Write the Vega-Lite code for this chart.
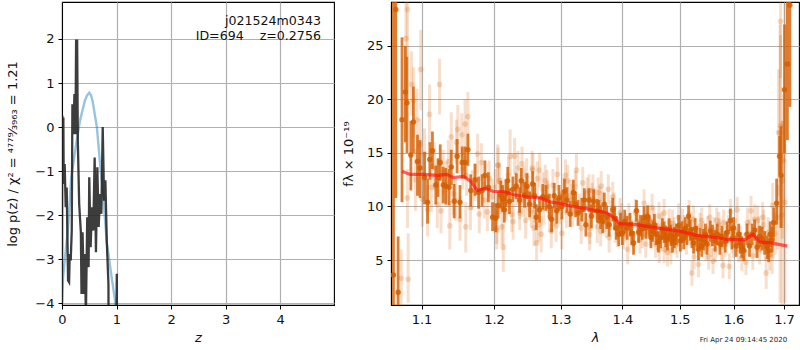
{
"$schema":"https://vega.github.io/schema/vega-lite/v6.json",
"padding":{"left":6,"top":1,"right":0,"bottom":0},
"background":"white",
"bounds":"flush",
"spacing":57,
"config":{"view":{"stroke":"black","strokeWidth":1.1},"font":"DejaVu Sans",
"axis":{"grid":true,"gridColor":"#b0b0b0","gridWidth":1.2,"domainColor":"black","tickColor":"black","tickSize":4,"tickWidth":1,"labelFontSize":13,"labelColor":"#111","titleFontSize":13,"titleFontWeight":"normal","titleColor":"#111","labelFont":"DejaVu Sans","titleFont":"DejaVu Sans","labelPadding":4,"labelFlush":false}},
"hconcat":[
{"width":272,"height":303,"layer":[
{"data":{"values":[{"z":0,"p":-4},{"z":0.02,"p":-3.4},{"z":0.06,"p":-2.9},{"z":0.11,"p":-2.3},{"z":0.17,"p":-1.15},{"z":0.25,"p":-0.46},{"z":0.33,"p":0.15},{"z":0.42,"p":0.6},{"z":0.46,"p":0.72},{"z":0.5,"p":0.78},{"z":0.53,"p":0.73},{"z":0.56,"p":0.6},{"z":0.64,"p":0},{"z":0.7,"p":-0.85},{"z":0.76,"p":-1.6},{"z":0.82,"p":-2.6},{"z":0.91,"p":-3.4},{"z":0.975,"p":-3.95},{"z":1,"p":-4.4}]},
"mark":{"type":"line","color":"#0072B2","opacity":0.42,"strokeWidth":2.4,"clip":true},
"encoding":{"x":{"field":"z","type":"quantitative","scale":{"domain":[0,4.99],"nice":false},"axis":{"values":[0,1,2,3,4],"format":"d","title":"z","titleFontStyle":"italic","titlePadding":5}},"y":{"field":"p","type":"quantitative","scale":{"domain":[-4.04,2.84],"nice":false,"zero":false},"axis":{"values":[-4,-3,-2,-1,0,1,2],"title":"log p(z) / χ² = ⁴⁷⁷⁹⁄₃₉₆₃ = 1.21","titlePadding":15}}}},
{"data":{"values":[{"z":0,"p":-4.01},{"z":0.006,"p":0.26},{"z":0.019,"p":-0.76},{"z":0.025,"p":0.22},{"z":0.031,"p":-1.29},{"z":0.049,"p":-0.84},{"z":0.068,"p":-1.82},{"z":0.086,"p":-1.37},{"z":0.111,"p":-3.48},{"z":0.13,"p":-3.52},{"z":0.142,"p":-2.88},{"z":0.16,"p":-3.03},{"z":0.179,"p":-2.35},{"z":0.191,"p":0.52},{"z":0.21,"p":-0.16},{"z":0.228,"p":0.75},{"z":0.247,"p":-0.16},{"z":0.259,"p":1.96},{"z":0.278,"p":1.96},{"z":0.29,"p":-0.31},{"z":0.315,"p":-1.74},{"z":0.346,"p":-2.39},{"z":0.358,"p":-3.79},{"z":0.377,"p":-2.39},{"z":0.401,"p":-3.79},{"z":0.42,"p":-2.88},{"z":0.438,"p":-4.3},{"z":0.463,"p":-2.05},{"z":0.488,"p":-3.18},{"z":0.5,"p":-1.14},{"z":0.525,"p":-2.73},{"z":0.549,"p":-1.82},{"z":0.574,"p":-2.35},{"z":0.599,"p":-0.69},{"z":0.623,"p":-2.84},{"z":0.648,"p":-0.91},{"z":0.673,"p":-2.27},{"z":0.698,"p":-1.52},{"z":0.722,"p":-1.97},{"z":0.747,"p":0},{"z":0.772,"p":-1.67},{"z":0.796,"p":-1.21},{"z":0.821,"p":-2.58},{"z":0.852,"p":-3.56},{"z":0.858,"p":-6},{"z":0.99,"p":-6},{"z":1.005,"p":-3.33},{"z":1.01,"p":-6}]},
"mark":{"type":"line","color":"#222222","opacity":0.88,"strokeWidth":2.3,"clip":true},
"encoding":{"x":{"field":"z","type":"quantitative"},"y":{"field":"p","type":"quantitative"}}},
{"data":{"values":[{"z":4.75,"p":2.415,"t":"j021524m0343"},{"z":4.75,"p":2.075,"t":"ID=694\u00a0\u00a0\u00a0\u00a0z=0.2756"}]},
"mark":{"type":"text","align":"right","baseline":"middle","fontSize":12.6,"color":"#111"},
"encoding":{"x":{"field":"z","type":"quantitative"},"y":{"field":"p","type":"quantitative"},"text":{"field":"t"}}}
]},
{"width":408,"height":303,"layer":[
{"data":{"name":"faint","values":[
{"l":1.0735,"f":3.3,"lo":-1,"hi":6},{"l":1.0825,"f":3.2,"lo":1,"hi":7.5},{"l":1.0815,"f":28.4,"lo":24,"hi":33},{"l":1.0796,"f":25.7,"lo":21,"hi":30},{"l":1.099,"f":22.8,"lo":19,"hi":26.5},{"l":1.124,"f":21.4,"lo":18.6,"hi":23.8},{"l":1.0868,"f":21.4,"lo":18.5,"hi":24.5},{"l":1.0895,"f":19.9,"lo":16.5,"hi":23},{"l":1.1106,"f":18.6,"lo":15.8,"hi":21.4},{"l":1.094,"f":18.1,"lo":15,"hi":21},{"l":1.163,"f":18.4,"lo":15.6,"hi":20.7},{"l":1.159,"f":17.7,"lo":15.2,"hi":20},{"l":1.149,"f":17.2,"lo":14.5,"hi":19.5},{"l":1.14,"f":16.5,"lo":14.3,"hi":18.8},{"l":1.1545,"f":16.7,"lo":14.7,"hi":18.7},{"l":1.147,"f":16,"lo":14,"hi":18.1},{"l":1.098,"f":15.8,"lo":13.2,"hi":18.2},{"l":1.0815,"f":10.8,"lo":8,"hi":13.5},{"l":1.138,"f":8.2,"lo":6,"hi":10.5},{"l":1.16,"f":8.1,"lo":5.7,"hi":10.4},{"l":1.126,"f":9.6,"lo":7.5,"hi":11.7},{"l":1.108,"f":9.7,"lo":7.2,"hi":12},{"l":1.152,"f":8.8,"lo":6.8,"hi":11},{"l":1.1665,"f":9.9,"lo":7.8,"hi":12},{"l":1.1905,"f":9.5,"lo":7.7,"hi":11.3},{"l":1.179,"f":9.3,"lo":7.5,"hi":11},{"l":1.2054,"f":13.9,"lo":12,"hi":15.8},{"l":1.1766,"f":14.9,"lo":13,"hi":16.8},{"l":1.204,"f":8,"lo":6.5,"hi":9.8},
{"l":1.092,"f":12.5,"lo":9.6,"hi":15.4},{"l":1.101,"f":10.7,"lo":8.1,"hi":13.2},{"l":1.104,"f":14.9,"lo":12.4,"hi":17.3},{"l":1.113,"f":11.8,"lo":9.5,"hi":14},{"l":1.117,"f":13.7,"lo":11.5,"hi":16},{"l":1.121,"f":10.2,"lo":8,"hi":12.3},{"l":1.129,"f":13.2,"lo":11.1,"hi":15.3},{"l":1.133,"f":12.1,"lo":10,"hi":14.2},{"l":1.136,"f":14.2,"lo":12.2,"hi":16.2},{"l":1.143,"f":11.2,"lo":9.2,"hi":13.1},{"l":1.146,"f":10.6,"lo":8.7,"hi":12.6},{"l":1.156,"f":13.5,"lo":11.6,"hi":15.4},{"l":1.161,"f":12.9,"lo":11,"hi":14.8},{"l":1.169,"f":11.5,"lo":9.7,"hi":13.4},{"l":1.173,"f":12.3,"lo":10.5,"hi":14},{"l":1.182,"f":14.1,"lo":12.4,"hi":15.9},{"l":1.186,"f":10.6,"lo":8.9,"hi":12.3},{"l":1.193,"f":12.6,"lo":10.9,"hi":14.3},{"l":1.197,"f":10.9,"lo":9.2,"hi":12.6},
{"l":1.206,"f":13.8,"lo":12.1,"hi":15.5},{"l":1.2235,"f":14.7,"lo":12.9,"hi":17.2},{"l":1.23,"f":14.7,"lo":13,"hi":16.4},{"l":1.235,"f":13.6,"lo":12,"hi":15.2},{"l":1.241,"f":14,"lo":12.4,"hi":15.6},{"l":1.256,"f":13.6,"lo":12,"hi":15.2},{"l":1.2575,"f":13.4,"lo":11.8,"hi":15},{"l":1.2675,"f":13.4,"lo":11.8,"hi":15},{"l":1.248,"f":12.9,"lo":11.3,"hi":14.5},{"l":1.295,"f":13,"lo":11.5,"hi":14.6},{"l":1.3075,"f":12.9,"lo":11.4,"hi":14.4},{"l":1.325,"f":13.4,"lo":11.9,"hi":14.9},{"l":1.335,"f":12.2,"lo":10.7,"hi":13.7},{"l":1.276,"f":12.4,"lo":10.9,"hi":13.9},{"l":1.311,"f":12.4,"lo":10.9,"hi":13.9},{"l":1.345,"f":11.5,"lo":10,"hi":13},{"l":1.3515,"f":11.5,"lo":10,"hi":13},
{"l":1.2135,"f":6.2,"lo":3.9,"hi":8.4},{"l":1.263,"f":6.6,"lo":5,"hi":8.3},{"l":1.27,"f":7.4,"lo":5.7,"hi":9.1},{"l":1.204,"f":7.8,"lo":6,"hi":9.6},{"l":1.2115,"f":8.1,"lo":6.4,"hi":9.8},{"l":1.228,"f":8.6,"lo":6.9,"hi":10.3},{"l":1.226,"f":9.25,"lo":7.6,"hi":10.9},{"l":1.259,"f":8,"lo":6.3,"hi":9.7},{"l":1.2665,"f":8.3,"lo":6.7,"hi":10},{"l":1.2465,"f":8.7,"lo":7,"hi":10.4},{"l":1.2375,"f":9.4,"lo":7.8,"hi":11},{"l":1.2855,"f":7.7,"lo":6.1,"hi":9.2},{"l":1.293,"f":8.2,"lo":6.7,"hi":9.7},{"l":1.302,"f":7.5,"lo":6,"hi":9},{"l":1.346,"f":7.4,"lo":5.9,"hi":8.9},{"l":1.3465,"f":8,"lo":6.5,"hi":9.5},{"l":1.3585,"f":8.1,"lo":6.6,"hi":9.6},{"l":1.3325,"f":8,"lo":6.5,"hi":9.5},{"l":1.319,"f":9.6,"lo":8.1,"hi":11.1},{"l":1.255,"f":9.6,"lo":8,"hi":11.2},{"l":1.2725,"f":11.6,"lo":10,"hi":13.2},{"l":1.21,"f":11,"lo":9.3,"hi":12.7},{"l":1.218,"f":10.4,"lo":8.7,"hi":12},{"l":1.243,"f":10.6,"lo":9,"hi":12.2},{"l":1.252,"f":10.4,"lo":8.8,"hi":12},{"l":1.28,"f":10.9,"lo":9.4,"hi":12.4},{"l":1.29,"f":9.7,"lo":8.2,"hi":11.2},{"l":1.315,"f":11,"lo":9.5,"hi":12.5},{"l":1.338,"f":10,"lo":8.5,"hi":11.5},{"l":1.35,"f":10.7,"lo":9.2,"hi":12.2},{"l":1.362,"f":10.4,"lo":8.9,"hi":11.9},
{"l":1.365,"f":11.9,"lo":10.5,"hi":13.3},{"l":1.3766,"f":11.6,"lo":10.2,"hi":13},{"l":1.384,"f":10.9,"lo":9.5,"hi":12.3},{"l":1.364,"f":7.7,"lo":6.3,"hi":9.1},{"l":1.37,"f":9,"lo":7.6,"hi":10.4},{"l":1.378,"f":7.1,"lo":5.7,"hi":8.5},{"l":1.388,"f":8,"lo":6.6,"hi":9.4},{"l":1.396,"f":9.4,"lo":8,"hi":10.8},{"l":1.402,"f":7.4,"lo":6,"hi":8.8},{"l":1.409,"f":6,"lo":4.6,"hi":7.3},{"l":1.422,"f":9.4,"lo":8.1,"hi":10.7},{"l":1.43,"f":6.9,"lo":5.6,"hi":8.2},{"l":1.437,"f":10.3,"lo":9,"hi":11.6},{"l":1.44,"f":6.5,"lo":5.2,"hi":7.8},{"l":1.451,"f":9.9,"lo":8.6,"hi":11.2},{"l":1.463,"f":9.1,"lo":7.8,"hi":10.4},{"l":1.472,"f":9.4,"lo":8.1,"hi":10.7},{"l":1.481,"f":8.5,"lo":7.2,"hi":9.8},{"l":1.4635,"f":6,"lo":4.7,"hi":7.3},{"l":1.484,"f":5.9,"lo":4.6,"hi":7.2},{"l":1.49,"f":7.7,"lo":6.4,"hi":9},{"l":1.498,"f":9,"lo":7.7,"hi":10.3},{"l":1.508,"f":7.9,"lo":6.6,"hi":9.2},{"l":1.517,"f":9.3,"lo":8,"hi":10.6},{"l":1.525,"f":8.8,"lo":7.5,"hi":10.1},{"l":1.522,"f":3.8,"lo":2.6,"hi":5},{"l":1.526,"f":5.3,"lo":4.1,"hi":6.5},{"l":1.534,"f":4.6,"lo":3.4,"hi":5.8},{"l":1.495,"f":6.5,"lo":5.2,"hi":7.8},{"l":1.425,"f":8.6,"lo":7.3,"hi":9.9},{"l":1.445,"f":8.8,"lo":7.5,"hi":10.1},{"l":1.457,"f":6.5,"lo":5.2,"hi":7.8},{"l":1.472,"f":6,"lo":4.7,"hi":7.3},{"l":1.478,"f":5.7,"lo":4.4,"hi":7},
{"l":1.553,"f":5.3,"lo":4.1,"hi":6.5},{"l":1.561,"f":4.9,"lo":3.7,"hi":6.1},{"l":1.58,"f":4.5,"lo":3.3,"hi":5.7},{"l":1.592,"f":4.4,"lo":3.2,"hi":5.6},{"l":1.555,"f":9,"lo":7.8,"hi":10.2},{"l":1.568,"f":8.7,"lo":7.5,"hi":9.9},{"l":1.581,"f":8.5,"lo":7.3,"hi":9.7},{"l":1.594,"f":9.5,"lo":8.3,"hi":10.7},{"l":1.607,"f":9.7,"lo":8.5,"hi":10.9},{"l":1.624,"f":4.8,"lo":3.6,"hi":6},{"l":1.61,"f":6,"lo":4.8,"hi":7.2},{"l":1.616,"f":5.2,"lo":4,"hi":6.4},{"l":1.627,"f":8.5,"lo":7.2,"hi":9.9},{"l":1.634,"f":9.6,"lo":8.3,"hi":11},{"l":1.641,"f":8.8,"lo":7.5,"hi":10.2},{"l":1.6375,"f":5.4,"lo":4.1,"hi":6.7},{"l":1.657,"f":9,"lo":7.6,"hi":10.4},{"l":1.647,"f":8.7,"lo":7.3,"hi":10.1},{"l":1.659,"f":8.3,"lo":6.9,"hi":9.7},{"l":1.664,"f":3.8,"lo":2.3,"hi":5.3},{"l":1.671,"f":5.5,"lo":4,"hi":7},{"l":1.676,"f":5.4,"lo":3.7,"hi":7.1},{"l":1.677,"f":10.1,"lo":8,"hi":12.2},{"l":1.687,"f":9,"lo":6,"hi":12},{"l":1.696,"f":9.2,"lo":0.5,"hi":18},{"l":1.702,"f":10.4,"lo":1,"hi":29},{"l":1.692,"f":16.9,"lo":1,"hi":27},{"l":1.693,"f":17.5,"lo":8,"hi":26},{"l":1.689,"f":16.9,"lo":11,"hi":22.8},{"l":1.693,"f":27.3,"lo":22,"hi":33},{"l":1.6965,"f":12.4,"lo":7,"hi":18},{"l":1.699,"f":14.3,"lo":8,"hi":20.5},{"l":1.574,"f":7.7,"lo":6.5,"hi":8.9},{"l":1.543,"f":7.4,"lo":6.2,"hi":8.6},{"l":1.587,"f":7.4,"lo":6.2,"hi":8.6},{"l":1.54,"f":8.7,"lo":7.5,"hi":9.9},{"l":1.584,"f":6.5,"lo":5.3,"hi":7.7},{"l":1.558,"f":6.5,"lo":5.3,"hi":7.7},{"l":1.548,"f":6.1,"lo":4.9,"hi":7.3},{"l":1.6,"f":6.4,"lo":5.2,"hi":7.6},{"l":1.651,"f":6,"lo":4.6,"hi":7.4},
{"l":1.202,"f":11.8,"lo":10.1,"hi":13.5},{"l":1.208,"f":12.4,"lo":10.7,"hi":14.1},{"l":1.216,"f":10.9,"lo":9.2,"hi":12.6},{"l":1.221,"f":12.9,"lo":11.2,"hi":14.6},{"l":1.232,"f":11.7,"lo":10.1,"hi":13.3},{"l":1.238,"f":10.4,"lo":8.8,"hi":12},{"l":1.244,"f":12.2,"lo":10.6,"hi":13.8},{"l":1.25,"f":11.2,"lo":9.6,"hi":12.8},{"l":1.26,"f":10.1,"lo":8.5,"hi":11.7},{"l":1.264,"f":12.6,"lo":11,"hi":14.2},{"l":1.274,"f":9.8,"lo":8.3,"hi":11.3},{"l":1.279,"f":11.9,"lo":10.4,"hi":13.4},{"l":1.283,"f":9.1,"lo":7.6,"hi":10.6},{"l":1.288,"f":12,"lo":10.5,"hi":13.5},{"l":1.298,"f":9.9,"lo":8.4,"hi":11.4},{"l":1.304,"f":11.2,"lo":9.7,"hi":12.7},{"l":1.309,"f":9.5,"lo":8,"hi":11},{"l":1.318,"f":10.6,"lo":9.1,"hi":12.1},{"l":1.323,"f":11.8,"lo":10.3,"hi":13.3},{"l":1.33,"f":9.7,"lo":8.2,"hi":11.2},{"l":1.342,"f":11.2,"lo":9.7,"hi":12.7},{"l":1.348,"f":9.4,"lo":7.9,"hi":10.9},{"l":1.355,"f":10.2,"lo":8.8,"hi":11.6},{"l":1.36,"f":11.3,"lo":9.9,"hi":12.7},{"l":1.367,"f":10,"lo":8.6,"hi":11.4},{"l":1.373,"f":8.5,"lo":7.1,"hi":9.9},{"l":1.381,"f":9.2,"lo":7.8,"hi":10.6},{"l":1.386,"f":9.9,"lo":8.5,"hi":11.3},{"l":1.392,"f":7.6,"lo":6.2,"hi":9},{"l":1.399,"f":8.9,"lo":7.5,"hi":10.3},{"l":1.405,"f":8.1,"lo":6.8,"hi":9.4},{"l":1.411,"f":9,"lo":7.7,"hi":10.3},{"l":1.416,"f":7.5,"lo":6.2,"hi":8.8},{"l":1.428,"f":8,"lo":6.7,"hi":9.3},{"l":1.434,"f":7.4,"lo":6.1,"hi":8.7},{"l":1.442,"f":8.3,"lo":7,"hi":9.6},{"l":1.448,"f":7.6,"lo":6.3,"hi":8.9},{"l":1.454,"f":8.6,"lo":7.3,"hi":9.9},{"l":1.46,"f":7.2,"lo":5.9,"hi":8.5},{"l":1.468,"f":8.2,"lo":6.9,"hi":9.5},{"l":1.475,"f":7,"lo":5.7,"hi":8.3},{"l":1.487,"f":8.4,"lo":7.1,"hi":9.7},{"l":1.492,"f":6.9,"lo":5.6,"hi":8.2},{"l":1.501,"f":7.2,"lo":5.9,"hi":8.5},{"l":1.505,"f":8.5,"lo":7.2,"hi":9.8},{"l":1.512,"f":6.8,"lo":5.5,"hi":8.1},{"l":1.52,"f":7.7,"lo":6.4,"hi":9},{"l":1.529,"f":7,"lo":5.8,"hi":8.2},{"l":1.537,"f":8.2,"lo":7,"hi":9.4},{"l":1.545,"f":6.8,"lo":5.6,"hi":8},{"l":1.551,"f":7.9,"lo":6.7,"hi":9.1},{"l":1.563,"f":7.8,"lo":6.6,"hi":9},{"l":1.566,"f":6,"lo":4.8,"hi":7.2},{"l":1.572,"f":8.3,"lo":7.1,"hi":9.5},{"l":1.577,"f":6.2,"lo":5,"hi":7.4},{"l":1.59,"f":8,"lo":6.8,"hi":9.2},{"l":1.597,"f":6.8,"lo":5.6,"hi":8},{"l":1.604,"f":7.7,"lo":6.5,"hi":8.9},{"l":1.613,"f":7,"lo":5.8,"hi":8.2},{"l":1.62,"f":6.3,"lo":5.1,"hi":7.5},{"l":1.63,"f":7.5,"lo":6.2,"hi":8.8},{"l":1.644,"f":6.5,"lo":5.2,"hi":7.8},{"l":1.649,"f":7.8,"lo":6.5,"hi":9.1},{"l":1.654,"f":6.9,"lo":5.6,"hi":8.2},{"l":1.662,"f":6.3,"lo":4.9,"hi":7.7},{"l":1.668,"f":7.6,"lo":6.2,"hi":9},{"l":1.674,"f":6.8,"lo":5.3,"hi":8.3},{"l":1.682,"f":7.5,"lo":5.5,"hi":9.5}
]},
"mark":{"type":"rule","color":"#D55E00","opacity":0.2,"strokeWidth":3,"clip":true},
"encoding":{"x":{"field":"l","type":"quantitative","scale":{"type":"log","domain":[1.0604,1.7309],"nice":false},"axis":{"values":[1.1,1.2,1.3,1.4,1.5,1.6,1.7],"format":".1f","title":"λ","titleFontStyle":"italic","titlePadding":5}},"y":{"field":"lo","type":"quantitative","scale":{"domain":[0.8,29.1],"nice":false,"zero":false},"axis":{"values":[5,10,15,20,25],"title":"fλ × 10⁻¹⁹","titlePadding":11}},"y2":{"field":"hi"}}},
{"data":{"name":"faint"},
"mark":{"type":"circle","color":"#D55E00","opacity":0.22,"size":32,"clip":true},
"encoding":{"x":{"field":"l","type":"quantitative"},"y":{"field":"f","type":"quantitative"}}},
{"data":{"name":"dark","values":[
{"l":1.0635,"f":3.6,"lo":-2,"hi":35},{"l":1.0665,"f":28.4,"lo":10.8,"hi":46},{"l":1.0695,"f":2,"lo":-3,"hi":7.2},{"l":1.0745,"f":18.1,"lo":10.4,"hi":25.8},{"l":1.0788,"f":20.7,"lo":16,"hi":25},{"l":1.081,"f":19.7,"lo":15,"hi":24},{"l":1.086,"f":14.8,"lo":11.5,"hi":18},{"l":1.0893,"f":17.9,"lo":15,"hi":21.2},{"l":1.0947,"f":14.2,"lo":11,"hi":16.7},{"l":1.098,"f":13.6,"lo":10.8,"hi":16.2},{"l":1.104,"f":12.7,"lo":10.2,"hi":15.1},{"l":1.108,"f":10.4,"lo":8.4,"hi":12.6},{"l":1.111,"f":14.4,"lo":12.5,"hi":16},{"l":1.1145,"f":15.2,"lo":13.5,"hi":17},{"l":1.119,"f":12,"lo":10.2,"hi":13.8},{"l":1.122,"f":12.7,"lo":10.9,"hi":14.5},{"l":1.125,"f":14.1,"lo":12.4,"hi":15.8},{"l":1.129,"f":12,"lo":10.3,"hi":13.7},{"l":1.1325,"f":11.9,"lo":10.2,"hi":13.6},{"l":1.137,"f":11.8,"lo":10.1,"hi":13.5},{"l":1.14,"f":13.7,"lo":12,"hi":15.3},{"l":1.144,"f":10.5,"lo":8.9,"hi":12.1},{"l":1.148,"f":14.7,"lo":13.1,"hi":16.3},{"l":1.152,"f":10.4,"lo":8.9,"hi":12},{"l":1.155,"f":14.1,"lo":12.6,"hi":15.6},{"l":1.159,"f":14.1,"lo":12.6,"hi":15.6},{"l":1.163,"f":15.3,"lo":13.8,"hi":16.8},{"l":1.167,"f":11.5,"lo":10,"hi":13},{"l":1.173,"f":12.5,"lo":11,"hi":14},{"l":1.178,"f":11.3,"lo":9.8,"hi":12.8},{"l":1.183,"f":11.5,"lo":10,"hi":13},{"l":1.187,"f":12.9,"lo":11.5,"hi":14.3},{"l":1.192,"f":11.8,"lo":10.4,"hi":13.2},{"l":1.198,"f":9,"lo":7.7,"hi":10.4},{"l":1.2025,"f":8.9,"lo":7.6,"hi":10.3},{"l":1.21,"f":11.1,"lo":9.8,"hi":12.4},{"l":1.215,"f":9.7,"lo":8.5,"hi":11},{"l":1.22,"f":12.4,"lo":11.1,"hi":13.7},{"l":1.2275,"f":11.6,"lo":10.4,"hi":12.8},{"l":1.2325,"f":11.9,"lo":10.7,"hi":13.1},{"l":1.24,"f":12.4,"lo":11.2,"hi":13.6},{"l":1.245,"f":11.1,"lo":9.9,"hi":12.3},{"l":1.2485,"f":11.9,"lo":10.7,"hi":13.1},{"l":1.257,"f":12.1,"lo":10.9,"hi":13.3},{"l":1.2625,"f":9,"lo":7.8,"hi":10.2},{"l":1.2675,"f":9.7,"lo":8.5,"hi":10.9},{"l":1.2725,"f":10.9,"lo":9.7,"hi":12.1},{"l":1.2775,"f":10.8,"lo":9.6,"hi":12},{"l":1.286,"f":8.8,"lo":7.6,"hi":10},{"l":1.29,"f":11,"lo":9.8,"hi":12.2},{"l":1.2975,"f":10.8,"lo":9.6,"hi":12},{"l":1.306,"f":11.4,"lo":10.2,"hi":12.6},{"l":1.315,"f":9.3,"lo":8.1,"hi":10.5},{"l":1.32,"f":11.3,"lo":10.1,"hi":12.5},{"l":1.3275,"f":9.4,"lo":8.2,"hi":10.6},{"l":1.34,"f":8.3,"lo":7.2,"hi":9.4},{"l":1.345,"f":10.6,"lo":9.5,"hi":11.7},{"l":1.3525,"f":10.5,"lo":9.4,"hi":11.6},{"l":1.3585,"f":9.6,"lo":8.5,"hi":10.7},
{"l":1.364,"f":9,"lo":7.9,"hi":10.1},{"l":1.37,"f":10.2,"lo":9.1,"hi":11.3},{"l":1.384,"f":9.7,"lo":8.6,"hi":10.8},{"l":1.39,"f":8,"lo":6.9,"hi":9.1},{"l":1.397,"f":8.3,"lo":7.2,"hi":9.4},{"l":1.408,"f":8,"lo":6.9,"hi":9.1},{"l":1.413,"f":8.3,"lo":7.2,"hi":9.4},{"l":1.419,"f":6.6,"lo":5.5,"hi":7.7},{"l":1.424,"f":9.6,"lo":8.6,"hi":10.6},{"l":1.431,"f":8.2,"lo":7.2,"hi":9.2},{"l":1.437,"f":9,"lo":8,"hi":10},{"l":1.443,"f":9.1,"lo":8.1,"hi":10.1},{"l":1.449,"f":7.1,"lo":6.1,"hi":8.1},{"l":1.455,"f":8.3,"lo":7.3,"hi":9.3},{"l":1.466,"f":7.1,"lo":6.1,"hi":8.1},{"l":1.472,"f":7.6,"lo":6.6,"hi":8.6},{"l":1.478,"f":6.9,"lo":5.9,"hi":7.9},{"l":1.484,"f":7.3,"lo":6.3,"hi":8.3},{"l":1.49,"f":7.1,"lo":6.1,"hi":8.1},{"l":1.498,"f":8.2,"lo":7.2,"hi":9.2},{"l":1.504,"f":7.6,"lo":6.6,"hi":8.6},{"l":1.51,"f":8,"lo":7,"hi":9},{"l":1.516,"f":9.1,"lo":8.1,"hi":10.1},{"l":1.522,"f":7.1,"lo":6.1,"hi":8.1},{"l":1.528,"f":7.9,"lo":6.9,"hi":8.9},{"l":1.534,"f":6,"lo":5,"hi":7},
{"l":1.54,"f":6.3,"lo":5.3,"hi":7.3},{"l":1.547,"f":7.4,"lo":6.4,"hi":8.4},{"l":1.556,"f":7.7,"lo":6.7,"hi":8.7},{"l":1.565,"f":6.8,"lo":5.8,"hi":7.8},{"l":1.574,"f":6.5,"lo":5.5,"hi":7.5},{"l":1.584,"f":6.7,"lo":5.7,"hi":7.7},{"l":1.594,"f":8.7,"lo":7.7,"hi":9.8},{"l":1.6,"f":8,"lo":7,"hi":9},{"l":1.61,"f":7.4,"lo":6.4,"hi":8.4},{"l":1.616,"f":6.2,"lo":5.2,"hi":7.2},{"l":1.626,"f":7.4,"lo":6.4,"hi":8.4},{"l":1.636,"f":7.4,"lo":6.4,"hi":8.4},{"l":1.646,"f":6.2,"lo":5.2,"hi":7.2},{"l":1.656,"f":7,"lo":5.9,"hi":8.1},{"l":1.666,"f":6.2,"lo":5.1,"hi":7.3},{"l":1.672,"f":7.4,"lo":6.2,"hi":8.6},{"l":1.679,"f":8.5,"lo":7.1,"hi":9.9},{"l":1.685,"f":10.3,"lo":8.3,"hi":12.6},{"l":1.691,"f":14.7,"lo":13,"hi":16.6},{"l":1.694,"f":12.9,"lo":8,"hi":17.5},{"l":1.701,"f":20.9,"lo":15,"hi":27},{"l":1.707,"f":23.3,"lo":16.2,"hi":32},{"l":1.712,"f":28.8,"lo":19.3,"hi":38},
{"l":1.206,"f":10.1,"lo":8.9,"hi":11.4},{"l":1.2125,"f":10.7,"lo":9.5,"hi":12},{"l":1.2175,"f":11.2,"lo":10,"hi":12.5},{"l":1.2225,"f":10.5,"lo":9.3,"hi":11.7},{"l":1.2375,"f":10.6,"lo":9.4,"hi":11.8},{"l":1.2525,"f":10.2,"lo":9,"hi":11.4},{"l":1.26,"f":11,"lo":9.8,"hi":12.2},{"l":1.2825,"f":10,"lo":8.8,"hi":11.2},{"l":1.294,"f":9.6,"lo":8.4,"hi":10.8},{"l":1.302,"f":10,"lo":8.8,"hi":11.2},{"l":1.31,"f":10.6,"lo":9.4,"hi":11.8},{"l":1.3235,"f":10.2,"lo":9,"hi":11.4},{"l":1.3335,"f":9.7,"lo":8.6,"hi":10.8},{"l":1.3375,"f":10.6,"lo":9.5,"hi":11.7},{"l":1.349,"f":9.1,"lo":8,"hi":10.2},{"l":1.361,"f":9.5,"lo":8.4,"hi":10.6},{"l":1.3675,"f":8.6,"lo":7.5,"hi":9.7},{"l":1.374,"f":9,"lo":7.9,"hi":10.1},{"l":1.378,"f":8.3,"lo":7.2,"hi":9.4},{"l":1.387,"f":8.9,"lo":7.8,"hi":10},{"l":1.394,"f":7.4,"lo":6.3,"hi":8.5},{"l":1.4,"f":7.5,"lo":6.4,"hi":8.6},{"l":1.404,"f":8.6,"lo":7.5,"hi":9.7},{"l":1.416,"f":7.5,"lo":6.4,"hi":8.6},{"l":1.4275,"f":7.6,"lo":6.6,"hi":8.6},{"l":1.434,"f":7.9,"lo":6.9,"hi":8.9},{"l":1.44,"f":8,"lo":7,"hi":9},{"l":1.446,"f":8.2,"lo":7.2,"hi":9.2},{"l":1.452,"f":7.7,"lo":6.7,"hi":8.7},{"l":1.458,"f":7.4,"lo":6.4,"hi":8.4},{"l":1.462,"f":6.7,"lo":5.7,"hi":7.7},{"l":1.469,"f":7.9,"lo":6.9,"hi":8.9},{"l":1.475,"f":7.2,"lo":6.2,"hi":8.2},{"l":1.481,"f":7.9,"lo":6.9,"hi":8.9},{"l":1.487,"f":6.7,"lo":5.7,"hi":7.7},{"l":1.494,"f":7.4,"lo":6.4,"hi":8.4},{"l":1.501,"f":6.8,"lo":5.8,"hi":7.8},{"l":1.507,"f":7,"lo":6,"hi":8},{"l":1.513,"f":7.4,"lo":6.4,"hi":8.4},{"l":1.519,"f":7.8,"lo":6.8,"hi":8.8},{"l":1.525,"f":6.6,"lo":5.6,"hi":7.6},{"l":1.531,"f":7.2,"lo":6.2,"hi":8.2},{"l":1.537,"f":7,"lo":6,"hi":8},{"l":1.543,"f":6.9,"lo":5.9,"hi":7.9},{"l":1.55,"f":6.5,"lo":5.5,"hi":7.5},{"l":1.56,"f":7.3,"lo":6.3,"hi":8.3},{"l":1.569,"f":7.4,"lo":6.4,"hi":8.4},{"l":1.578,"f":7.2,"lo":6.2,"hi":8.2},{"l":1.588,"f":7.6,"lo":6.6,"hi":8.6},{"l":1.597,"f":7,"lo":6,"hi":8},{"l":1.605,"f":6.3,"lo":5.3,"hi":7.3},{"l":1.613,"f":6.6,"lo":5.6,"hi":7.6},{"l":1.62,"f":5.9,"lo":4.9,"hi":6.9},{"l":1.631,"f":6.3,"lo":5.3,"hi":7.3},{"l":1.641,"f":7.8,"lo":6.8,"hi":8.8},{"l":1.651,"f":7.2,"lo":6.2,"hi":8.2},{"l":1.661,"f":6.6,"lo":5.5,"hi":7.7},{"l":1.669,"f":5.9,"lo":4.8,"hi":7},{"l":1.676,"f":6.9,"lo":5.7,"hi":8.1}
]},
"mark":{"type":"rule","color":"#D55E00","opacity":0.8,"strokeWidth":2.8,"clip":true},
"encoding":{"x":{"field":"l","type":"quantitative"},"y":{"field":"lo","type":"quantitative"},"y2":{"field":"hi"}}},
{"data":{"name":"dark"},
"mark":{"type":"circle","color":"#D55E00","opacity":0.85,"size":30,"clip":true},
"encoding":{"x":{"field":"l","type":"quantitative"},"y":{"field":"f","type":"quantitative"}}},
{"data":{"values":[{"l":1.0745,"f":13.3},{"l":1.085,"f":13},{"l":1.1026,"f":13},{"l":1.1205,"f":12.9},{"l":1.134,"f":13},{"l":1.143,"f":12.7},{"l":1.157,"f":12.8},{"l":1.166,"f":12.4},{"l":1.1766,"f":11.5},{"l":1.187,"f":11.7},{"l":1.199,"f":11.4},{"l":1.214,"f":11.4},{"l":1.229,"f":11.1},{"l":1.249,"f":10.9},{"l":1.269,"f":10.8},{"l":1.284,"f":10.4},{"l":1.3,"f":10.3},{"l":1.315,"f":10.05},{"l":1.341,"f":9.8},{"l":1.374,"f":9.4},{"l":1.385,"f":9},{"l":1.396,"f":8.4},{"l":1.424,"f":8.3},{"l":1.459,"f":8},{"l":1.5,"f":7.7},{"l":1.531,"f":7.3},{"l":1.569,"f":7.1},{"l":1.588,"f":6.9},{"l":1.622,"f":6.9},{"l":1.638,"f":7.4},{"l":1.651,"f":6.7},{"l":1.674,"f":6.6},{"l":1.707,"f":6.3}]},
"mark":{"type":"line","color":"#ff1010","opacity":0.65,"strokeWidth":3.2,"clip":true},
"encoding":{"x":{"field":"l","type":"quantitative"},"y":{"field":"f","type":"quantitative"}}},
{"data":{"values":[{"l":1.7065,"f":-2.45,"t":"Fri Apr 24 09:14:45 2020"}]},
"mark":{"type":"text","align":"right","baseline":"middle","fontSize":7,"color":"#222"},
"encoding":{"x":{"field":"l","type":"quantitative"},"y":{"field":"f","type":"quantitative"},"text":{"field":"t"}}}
]}
]}
